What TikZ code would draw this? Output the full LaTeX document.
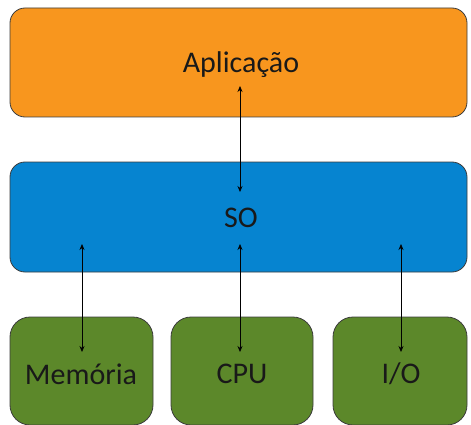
\documentclass[tikz,border=0pt]{standalone}
\usepackage{fontspec}
\setmainfont{Carlito}
\usetikzlibrary{arrows.meta}
\definecolor{laranja}{RGB}{248,150,30}
\definecolor{azul}{RGB}{6,132,208}
\definecolor{verde}{RGB}{92,136,42}
\definecolor{borda}{RGB}{60,60,60}
\tikzset{camada/.style={draw=borda,line width=0.8pt,rounded corners=15pt,
    inner sep=0pt},
  recurso/.style={camada,fill=verde,rounded corners=20pt,minimum height=108pt},
  rotulo/.style={font=\fontsize{30}{36}\selectfont,text=black!90},
  seta/.style={{Stealth[length=6pt,width=5pt]}-{Stealth[length=6pt,width=5pt]},line width=0.7pt}}
\begin{document}
\begin{tikzpicture}[x=1pt,y=-1pt]
\useasboundingbox (0,0) rectangle (471,425);
\node[camada,fill=laranja,minimum width=457pt,minimum height=109pt] (app) at (238.5,62.5) {};
\node[camada,fill=azul,minimum width=457pt,minimum height=110pt] (so) at (238.5,217) {};
\node[recurso,minimum width=143pt] (mem) at (81.5,371) {};
\node[recurso,minimum width=142pt] (cpu) at (242,371) {};
\node[recurso,minimum width=134pt] (io) at (400,371) {};
\node[rotulo] (tapp) at (241,65) {Aplicação};
\node[rotulo] (tso) at (241,218) {SO};
\node[rotulo] (tmem) at (81,374) {Memória};
\node[rotulo] (tcpu) at (242,374) {CPU};
\node[rotulo] (tio) at (401,374) {I/O};
% pontas das setas
\coordinate (a1) at (240,86);
\coordinate (a2) at (240,192);
\coordinate (m1) at (82,244);
\coordinate (m2) at (82,352);
\coordinate (c1) at (240,244);
\coordinate (c2) at (240,352);
\coordinate (i1) at (401,244);
\coordinate (i2) at (401,352);
\draw[seta] (a1) -- (a2);
\draw[seta] (m1) -- (m2);
\draw[seta] (c1) -- (c2);
\draw[seta] (i1) -- (i2);
\end{tikzpicture}
\end{document}
